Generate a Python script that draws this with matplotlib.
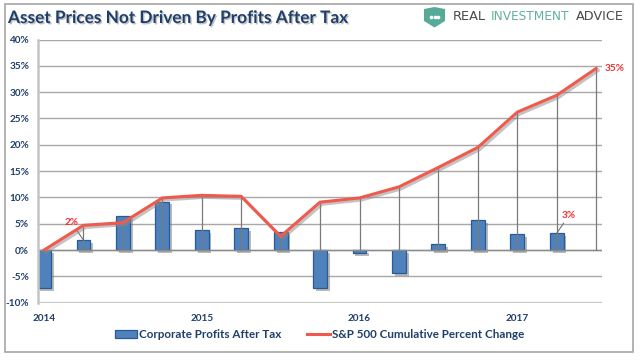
import matplotlib
matplotlib.use('Agg')
import matplotlib.pyplot as plt
import matplotlib.patheffects as pe
from matplotlib.lines import Line2D
from matplotlib.patches import Patch, Polygon, Rectangle

# Quarterly values
quarters = ['2014', 'Q2 14', 'Q3 14', 'Q4 14', '2015', 'Q2 15', 'Q3 15', 'Q4 15',
            '2016', 'Q2 16', 'Q3 16', 'Q4 16', '2017', 'Q2 17', 'Q3 17']
profits = [-7.2, 1.9, 6.5, 9.2, 3.8, 4.1, 3.5, -7.2, -0.6, -4.4, 1.2, 5.7, 3.0, 3.2, None]
sp500 = [0, 4.7, 5.2, 9.9, 10.4, 10.2, 2.6, 9.1, 9.9, 12.0, 15.7, 19.5, 26.2, 29.4, 34.5]
y_ticks = [-10, -5, 0, 5, 10, 15, 20, 25, 30, 35, 40]
year_ticks = ['2014', '2015', '2016', '2017']

NAVY = '#1f3f6b'
RED = '#ef5a4c'
BLUE = '#4f81bd'
EDGE = '#2a5a92'
GRID = '#a8a8a8'
W, H = 640, 360

plt.rcParams['font.family'] = ['Lato', 'DejaVu Sans']

fig = plt.figure(figsize=(W / 100, H / 100), dpi=100, facecolor='white')

# background layer in pixel coordinates: frame, title, logo
bg = fig.add_axes([0, 0, 1, 1], zorder=0)
bg.set_xlim(0, W)
bg.set_ylim(H, 0)
bg.axis('off')
bg.add_patch(Rectangle((4.5, 3.5), 628.5, 348, fill=False, ec='#a6a6a6', lw=1.2))
bg.text(8, 18, 'Asset Prices Not Driven By Profits After Tax', fontsize=12.4,
        fontweight='bold', color=NAVY, va='center', ha='left',
        path_effects=[pe.withSimplePatchShadow(offset=(1, -1), shadow_rgbFace='#999999', alpha=0.6)])
bg.add_patch(Polygon([(424, 9), (434.5, 7), (445, 9), (445, 21), (434.5, 27.5), (424, 21)],
                     fc='#56ab98', ec='none'))
bg.plot([431, 434.5, 438], [17, 17, 17], ls='none', marker='o', ms=1.6, color='white')
for label, px, col, size in [('REAL', 453, '#4a4a4a', 9.3), ('INVESTMENT', 491, '#62b09f', 8.7),
                             ('ADVICE', 576, '#4a4a4a', 9.3)]:
    bg.text(px, 17, label, fontsize=size, family='DejaVu Sans', color=col, va='center', ha='left')

# chart area, first category centre at 44 px, spacing 39.44 px
left, right, top, bottom = 37.5, 602, 39.5, 302.7
ax = fig.add_axes([left / W, 1 - bottom / H, (right - left) / W, (bottom - top) / H], zorder=1)
ax.patch.set_alpha(0)
x = list(range(len(quarters)))
ax.set_xlim((left - 44) / 39.44, (right - 44) / 39.44)
ax.set_ylim(-10, 40)

ax.set_axisbelow(True)
ax.grid(axis='y', color=GRID, lw=1)
for side in ['top', 'right', 'bottom']:
    ax.spines[side].set_visible(False)
ax.spines['left'].set_color('#c4c4c4')
ax.spines['left'].set_linewidth(1.8)
ax.axhline(-10, color='#c8c8c8', lw=1.6, zorder=1)

bar_x = [i for i, v in zip(x, profits) if v is not None]
bar_v = [v for v in profits if v is not None]
bars = ax.bar(bar_x, bar_v, width=0.35, color=BLUE, edgecolor=EDGE, linewidth=0.9, zorder=2)
for b in bars:
    b.set_path_effects([pe.withSimplePatchShadow(offset=(2, -2), shadow_rgbFace='#777777', alpha=0.5)])
ax.axhline(0, color='#8c8c8c', lw=1, zorder=2.5)
ax.vlines(x, 0, sp500, color='#7a7a7a', lw=0.9, zorder=3)
ax.plot(x, sp500, color=RED, lw=2.2, zorder=4, solid_joinstyle='miter',
        path_effects=[pe.SimpleLineShadow(offset=(1.5, -1.5), shadow_color='#888888', alpha=0.5),
                      pe.Normal()])

ax.set_yticks(y_ticks)
ax.set_yticklabels([f'{v}%' for v in y_ticks], fontsize=7.2, fontweight='bold', color=NAVY)
ax.set_xticks(x[::4])
ax.set_xticklabels(year_ticks, fontsize=7.2, fontweight='bold', color=NAVY)
ax.tick_params(axis='both', length=0)
ax.tick_params(axis='y', pad=6)
ax.tick_params(axis='x', pad=8)

# data callouts
arrow = dict(arrowstyle='-', color='#666666', lw=0.7, shrinkA=0, shrinkB=0)
ax.annotate('2%', xy=(x[1], profits[1]), xytext=(-12, 13), textcoords='offset pixels',
            fontsize=7.2, fontweight='bold', color='#f03030', ha='center', va='bottom', arrowprops=arrow)
ax.annotate('3%', xy=(x[13], profits[13]), xytext=(12, 13), textcoords='offset pixels',
            fontsize=7.2, fontweight='bold', color='#f03030', ha='center', va='bottom', arrowprops=arrow)
ax.annotate('35%', xy=(x[14], sp500[14]), xytext=(8, 0), textcoords='offset pixels',
            fontsize=7.2, fontweight='bold', color='#f03030', ha='left', va='center')

# legend keys without the shadows
handles = [Patch(facecolor=BLUE, edgecolor=EDGE, linewidth=0.9, label='Corporate Profits After Tax'),
           Line2D([], [], color=RED, lw=2.2, label='S&P 500 Cumulative Percent Change')]
fig.legend(handles=handles, loc='center', bbox_to_anchor=(319.5 / W, 1 - 334.5 / H), ncol=2,
           frameon=False, handlelength=1.9, handletextpad=0.2, columnspacing=2.2,
           borderpad=0, labelcolor=NAVY, prop={'weight': 'bold', 'size': 8.4})

fig.savefig('out.png', dpi=100)
